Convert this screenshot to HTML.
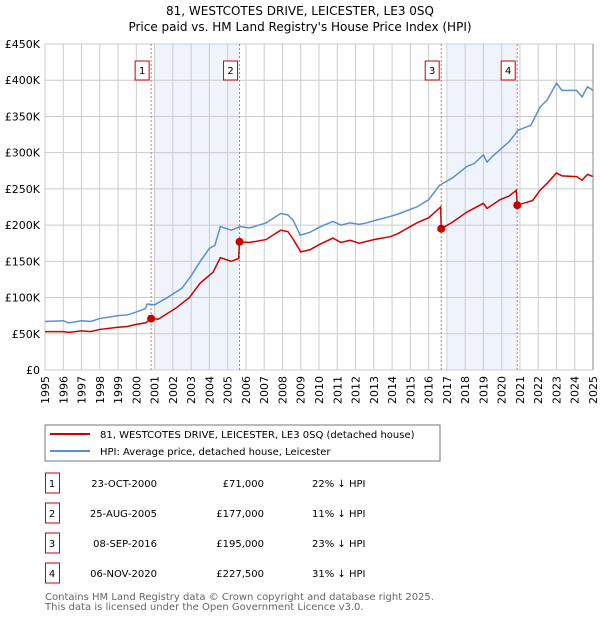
<!DOCTYPE html>
<html><head><meta charset="utf-8">
<style>
body{margin:0;background:#fff;font-family:"DejaVu Sans","Liberation Sans",sans-serif;}
svg text{font-family:"DejaVu Sans","Liberation Sans",sans-serif;}
</style></head>
<body>
<svg id="chart" width="600" height="620" viewBox="0 0 600 620" xmlns="http://www.w3.org/2000/svg">
<text x="300" y="15" text-anchor="middle" font-size="12">81, WESTCOTES DRIVE, LEICESTER, LE3 0SQ</text>
<text x="300" y="31" text-anchor="middle" font-size="12">Price paid vs. HM Land Registry's House Price Index (HPI)</text>
<g id="plot"></g>
<g>
<rect x="45" y="425" width="395" height="36" fill="#fff" stroke="#777" stroke-width="1"/>
<line x1="50" y1="434" x2="90" y2="434" stroke="#cc0000" stroke-width="2"/>
<text x="100" y="438" font-size="10">81, WESTCOTES DRIVE, LEICESTER, LE3 0SQ (detached house)</text>
<line x1="50" y1="451" x2="90" y2="451" stroke="#5b8fd0" stroke-width="2"/>
<text x="100" y="455" font-size="10">HPI: Average price, detached house, Leicester</text>
</g>
<g id="table"></g>
<text x="45" y="600" font-size="10" fill="#666">Contains HM Land Registry data © Crown copyright and database right 2025.</text>
<text x="45" y="610" font-size="10" fill="#666">This data is licensed under the Open Government Licence v3.0.</text>
</svg>
<script>
const yTicks=[0,50,100,150,200,250,300,350,400,450];
const yTickLabels=["£0","£50K","£100K","£150K","£200K","£250K","£300K","£350K","£400K","£450K"];
const xYears=[1995,1996,1997,1998,1999,2000,2001,2002,2003,2004,2005,2006,2007,2008,2009,2010,2011,2012,2013,2014,2015,2016,2017,2018,2019,2020,2021,2022,2023,2024,2025];
const hpiX=[1995,1996,1996.3,1997,1997.5,1998,1999,1999.5,2000,2000.5,2000.6,2001,2001.7,2002.5,2003,2003.5,2004,2004.3,2004.6,2005.2,2005.7,2006.2,2007.1,2007.9,2008.3,2008.6,2008.97,2009.5,2010,2010.76,2011.2,2011.7,2012.2,2012.6,2013,2013.9,2014.3,2015.35,2016,2016.6,2017.3,2018.1,2018.5,2019.0,2019.2,2019.5,2019.9,2020.4,2020.9,2021.6,2022.1,2022.5,2023.0,2023.3,2024.1,2024.4,2024.7,2025];
const hpiY=[67,68,65,68,67,71,75,76,80,85,91,90,100,113,130,150,168,172,198,193,198,196,203,216,214,206,186,190,197,205,200,203,201,203,206,212,215,225,235,255,265,281,285,297,287,295,304,315,331,338,363,373,396,386,386,377,391,386];
const ppX=[1995,1996,1996.3,1997,1997.5,1998,1999,1999.5,2000,2000.5,2000.81,2001.2,2002.2,2002.9,2003.5,2004.2,2004.6,2005.2,2005.6,2005.65,2006.2,2007.1,2007.9,2008.3,2008.6,2009,2009.5,2010,2010.76,2011.2,2011.7,2012.2,2013,2013.9,2014.3,2015.35,2016,2016.66,2016.69,2017.3,2018.1,2019.0,2019.2,2019.9,2020.4,2020.8,2020.85,2021.7,2022.1,2022.5,2023.0,2023.3,2024.1,2024.4,2024.7,2025];
const ppY=[53,53,52,54,53,56,59,60,63,65,71,70,86,100,120,135,155,150,154,177,176,180,193,191,180,163,166,173,182,176,179,175,180,184,188,203,210,225,195,204,218,230,223,235,240,248,227.5,234,248,258,272,268,267,262,270,267];
const saleYears=[2000.81,2005.65,2016.69,2020.85];
const saleValues=[71,177,195,227.5];
const saleLabels=["1","2","3","4"];
const saleDates=["23-OCT-2000","25-AUG-2005","08-SEP-2016","06-NOV-2020"];
const salePrices=["£71,000","£177,000","£195,000","£227,500"];
const saleHpi=["22% ↓ HPI","11% ↓ HPI","23% ↓ HPI","31% ↓ HPI"];
const shadeStart=[2001.0,2017.05];
const shadeEnd=[2005.65,2020.85];

const X0=45,X1=593,Y0=370,Y1=44;
const x=v=>X0+(v-1995)*(X1-X0)/30;
const y=v=>Y0-v*(Y0-Y1)/450;
const NS="http://www.w3.org/2000/svg";
const plot=document.getElementById('plot');
function mk(tag,attrs,parent){const e=document.createElementNS(NS,tag);for(const k in attrs)e.setAttribute(k,attrs[k]);(parent||plot).appendChild(e);return e;}

for(let i=0;i<shadeStart.length;i++){
 const r=mk('rect',{x:x(shadeStart[i]),y:Y1,width:x(shadeEnd[i])-x(shadeStart[i]),height:Y0-Y1,fill:'#eef3fc'});
 
 
}
xYears.forEach(v=>{const l=mk('line',{x1:x(v),y1:Y1,x2:x(v),y2:Y0,stroke:'#cccccc','stroke-width':1});
 
 
 const t=mk('text',{x:0,y:0,'font-size':11,'text-anchor':'end',transform:`translate(${x(v)+4},${Y0+6}) rotate(-90)`});
 t.textContent=v;
 
 
});
yTicks.forEach((v,i)=>{const l=mk('line',{x1:X0,y1:y(v),x2:X1,y2:y(v),stroke:'#cccccc','stroke-width':1});
 
 
 const t=mk('text',{x:X0-5,y:y(v)+4,'font-size':11,'text-anchor':'end'});
 t.textContent=yTickLabels[i];
 
 
});
saleYears.forEach((v,i)=>{const l=mk('line',{x1:x(v),y1:Y1,x2:x(v),y2:Y0,stroke:'#ee6666','stroke-width':1,'stroke-dasharray':'2,2'});
 
 
 const b=mk('rect',{x:x(v)-16,y:61,width:14,height:19,fill:'#fff',stroke:'#cc0000','stroke-width':1});
 
 
 const t=mk('text',{x:x(v)-9,y:74,'font-size':10,'text-anchor':'middle'});t.textContent=saleLabels[i];
 
 
});
const hp=mk('polyline',{points:hpiX.map((v,i)=>x(v)+','+y(hpiY[i])).join(' '),fill:'none',stroke:'#5b8fd0','stroke-width':1.5});


const pp=mk('polyline',{points:ppX.map((v,i)=>x(v)+','+y(ppY[i])).join(' '),fill:'none',stroke:'#cc0000','stroke-width':1.5});


saleYears.forEach((v,i)=>{const c=mk('circle',{cx:x(v),cy:y(saleValues[i]),r:4,fill:'#cc0000'});
 
 
});
const ax=mk('line',{x1:X1,y1:Y1,x2:X1,y2:Y0,stroke:'#888','stroke-width':1});



const tb=document.getElementById('table');
const rowY=[483,513,543,573];
saleLabels.forEach((s,i)=>{
 const cy=rowY[i];
 const b=mk('rect',{x:45.5,y:cy-10,width:14,height:20,fill:'#fff',stroke:'#cc0000','stroke-width':1},tb);
 
 
 const cells=[[52,s,'middle'],[157,saleDates[i],'end'],[264,salePrices[i],'end'],[312,saleHpi[i],'start']];
 cells.forEach(c=>{const t=mk('text',{x:c[0],y:cy+4,'font-size':10,'text-anchor':c[2]},tb);t.textContent=c[1];
  
  });
});
</script>
</body></html>
